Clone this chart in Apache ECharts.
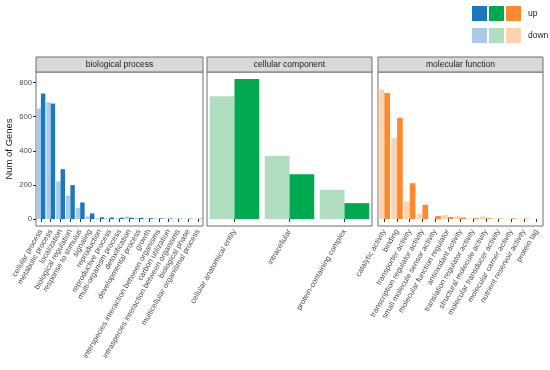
<!DOCTYPE html>
<html><head><meta charset="utf-8">
<script src="https://cdn.jsdelivr.net/npm/echarts@6/dist/echarts.min.js"></script>
<style>html,body{margin:0;padding:0;background:#fff}#c{width:550px;height:370px}</style>
</head><body><div id="c"></div>
<script>
const bpCategories = ["cellular process","metabolic process","localization","biological regulation","response to stimulus","signaling","reproduction","reproductive process","multi-organism process","detoxification","developmental process","growth","interspecies interaction between organisms","carbon utilization","intraspecies interaction between organisms","biological phase","multicellular organismal process"];
const bpDown = [648,685,220,138,66,15,4,4,5,15,6,3,3,2,2,1,1];
const bpUp   = [736,677,292,199,97,33,10,9,8,8,7,5,4,3,2,2,2];

const ccCategories = ["cellular anatomical entity","intracellular","protein-containing complex"];
const ccDown = [720,370,171];
const ccUp   = [821,263,93];

const mfCategories = ["catalytic activity","binding","transporter activity","transcription regulator activity","small molecule sensor activity","molecular function regulator","antioxidant activity","translation regulator activity","structural molecule activity","molecular transducer activity","molecular carrier activity","nutrient reservoir activity","protein tag"];
const mfDown = [759,475,103,29,1,23,17,2,15,2,2,1,1];
const mfUp   = [739,593,210,83,17,12,9,5,5,3,4,2,1];

const panelTitles = ["biological process","cellular component","molecular function"];
const yTicks = [0,200,400,600,800];
const legendLabels = ["up","down"];

const colors = [
  {up:"#1a78bd", down:"#aacae8"},
  {up:"#00a850", down:"#b0ddc0"},
  {up:"#fe8a30", down:"#fdd3b0"}
];

const panels = [
  {cats:bpCategories, down:bpDown, up:bpUp},
  {cats:ccCategories, down:ccDown, up:ccUp},
  {cats:mfCategories, down:mfDown, up:mfUp}
];
const gridBoxes = [
  {left:36, width:167},
  {left:207, width:165},
  {left:378, width:165}
];
const TOP = 72, HEIGHT = 154, STRIP = 15;
const FONT = "Liberation Sans, Arial, sans-serif";

const grids = [], xAxes = [], yAxes = [], series = [], graphics = [];
panels.forEach((p, i) => {
  const g = gridBoxes[i];
  grids.push({left:g.left, top:TOP, width:g.width, height:HEIGHT, show:true,
    borderColor:"#6e6e6e", borderWidth:1, backgroundColor:"#fff", containLabel:false});
  xAxes.push({type:"category", gridIndex:i, data:p.cats,
    axisLine:{show:false},
    axisTick:{show:true, alignWithLabel:true, length:3, lineStyle:{color:"#333"}},
    axisLabel:{rotate:60, fontSize:7.7, color:"#4d4d4d", fontFamily:FONT, margin:4, interval:0}
  });
  yAxes.push({type:"value", gridIndex:i, min:-41, max:862,
    splitLine:{show:false},
    axisLine:{show:false},
    axisTick:{show:i===0, length:3, lineStyle:{color:"#333"}, customValues:yTicks},
    axisLabel:{show:i===0, fontSize:7.7, color:"#4d4d4d", fontFamily:FONT, margin:4, customValues:yTicks},
    name: i===0 ? "Num of Genes" : "", nameLocation:"middle", nameGap:22,
    nameTextStyle:{fontSize:9.5, color:"#1a1a1a", fontFamily:FONT}
  });
  series.push({type:"bar", xAxisIndex:i, yAxisIndex:i, data:p.down, barGap:"0%", barCategoryGap:"10%",
    itemStyle:{color:colors[i].down}, silent:true, animation:false});
  series.push({type:"bar", xAxisIndex:i, yAxisIndex:i, data:p.up, barGap:"0%", barCategoryGap:"10%",
    itemStyle:{color:colors[i].up}, silent:true, animation:false});
  graphics.push({type:"rect", shape:{x:g.left, y:TOP-STRIP, width:g.width, height:STRIP},
    style:{fill:"#d9d9d9", stroke:"#6e6e6e", lineWidth:1}});
  graphics.push({type:"text", x:g.left+g.width/2, y:TOP-STRIP/2,
    style:{text:panelTitles[i], fontSize:8.5, fill:"#1a1a1a", fontFamily:FONT, align:"center", verticalAlign:"middle"}});
});

// legend
const legX = 472, legY = [6, 28], sq = 15, gap = 2;
["up","down"].forEach((k, r) => {
  colors.forEach((c, j) => {
    graphics.push({type:"rect", shape:{x:legX + j*(sq+gap), y:legY[r], width:sq, height:sq},
      style:{fill:c[k]}});
  });
  graphics.push({type:"text", x:legX + 3*(sq+gap) + 5, y:legY[r]+sq/2,
    style:{text:legendLabels[r], fontSize:8.5, fill:"#1a1a1a", fontFamily:FONT, align:"left", verticalAlign:"middle"}});
});

const chart = echarts.init(document.getElementById("c"), null, {renderer:"canvas"});
chart.setOption({animation:false, grid:grids, xAxis:xAxes, yAxis:yAxes, series:series, graphic:graphics});
</script>
</body></html>
